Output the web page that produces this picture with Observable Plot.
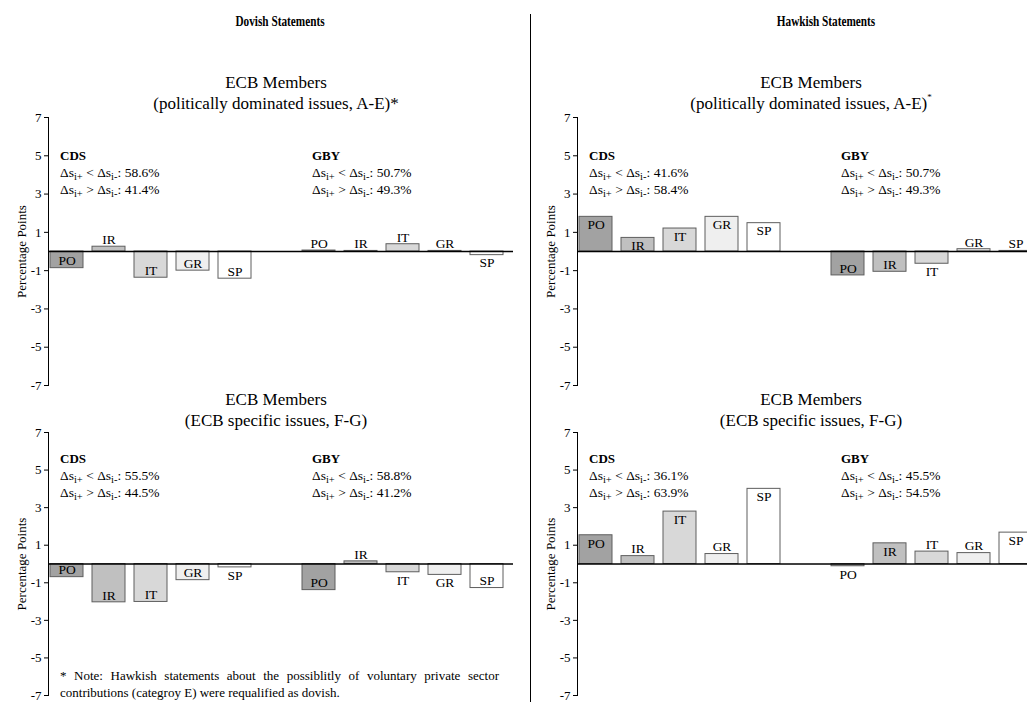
<!DOCTYPE html>
<html>
<head>
<meta charset="utf-8">
<script src="https://cdn.jsdelivr.net/npm/d3@7"></script>
<script src="https://cdn.jsdelivr.net/npm/@observablehq/plot@0.6"></script>
<style>
  html, body { margin: 0; padding: 0; overflow: hidden; background: #fff; }
  #root { position: relative; width: 1027px; height: 702px; overflow: hidden;
          font-family: "Liberation Serif", "Times New Roman", serif; color: #000; }
  .hdr { position: absolute; top: 12px; font-weight: bold; font-size: 15px; line-height: 18px;
         transform: translateX(-50%) scaleX(0.75); white-space: nowrap; }
  .divider { position: absolute; left: 530px; top: 14px; width: 1.2px; height: 700px; background: #000; }
  .ptitle { position: absolute; font-size: 17px; line-height: 21px; text-align: center;
            transform: translateX(-50%); white-space: nowrap; z-index: 2; }
  .ptitle sup { font-size: 9px; vertical-align: 9px; line-height: 0; }
  .panel { position: absolute; z-index: 1; width: 531px; }
  .panel svg { max-width: none !important; display: block; }
  .note { position: absolute; left: 60px; top: 668px; width: 439px; font-size: 13px; line-height: 16.5px; z-index: 3; }
  .note .l1 { text-align: justify; text-align-last: justify; white-space: nowrap; }
</style>
</head>
<body>
<div id="root"></div>
<script>
// ---------------- data ----------------
const categories = ["PO", "IR", "IT", "GR", "SP"];
const groups = ["CDS", "GBY"];
const yTicks = [7, 5, 3, 1, -1, -3, -5, -7];

// Dovish statements, politically dominated issues (A-E)
const dovishAE_CDS = [-0.87, 0.25, -1.37, -1.0, -1.42];
const dovishAE_GBY = [0.05, 0.03, 0.38, 0.03, -0.19];
// Hawkish statements, politically dominated issues (A-E)
const hawkishAE_CDS = [1.81, 0.71, 1.2, 1.81, 1.48];
const hawkishAE_GBY = [-1.25, -1.06, -0.64, 0.12, 0.03];
// Dovish statements, ECB specific issues (F-G)
const dovishFG_CDS = [-0.70, -2.04, -2.02, -0.86, -0.18];
const dovishFG_GBY = [-1.39, 0.14, -0.44, -0.58, -1.28];
// Hawkish statements, ECB specific issues (F-G)
const hawkishFG_CDS = [1.53, 0.42, 2.79, 0.53, 4.0];
const hawkishFG_GBY = [-0.12, 1.1, 0.66, 0.58, 1.67];

// shares: [CDS, GBY] for "Δsi+ < Δsi-" and "Δsi+ > Δsi-"
const dovishAE_less = [58.6, 50.7], dovishAE_more = [41.4, 49.3];
const hawkishAE_less = [41.6, 50.7], hawkishAE_more = [58.4, 49.3];
const dovishFG_less = [55.5, 58.8], dovishFG_more = [44.5, 41.2];
const hawkishFG_less = [36.1, 45.5], hawkishFG_more = [63.9, 54.5];

const headers = ["Dovish Statements", "Hawkish Statements"];
const titleLine1 = "ECB Members";
const titleAE = "(politically dominated issues, A-E)";
const titleFG = "(ECB specific issues, F-G)";
const yLabel = "Percentage Points";
const noteLine1 = "* Note: Hawkish statements about the possiblitly of voluntary private sector";
const noteLine2 = "contributions (categroy E) were requalified as dovish.";

// ---------------- styles / layout ----------------
const fills = ["#a2a2a2", "#c0c0c0", "#d8d8d8", "#efefef", "#ffffff"];
const slots = [...categories.map(c => "CDS|" + c), "gap", ...categories.map(c => "GBY|" + c)];

const root = document.getElementById("root");

function addDiv(cls, html, style) {
  const d = document.createElement("div");
  d.className = cls;
  d.innerHTML = html;
  Object.assign(d.style, style || {});
  root.appendChild(d);
  return d;
}

addDiv("hdr", headers[0], {left: "280px"});
addDiv("hdr", headers[1], {left: "826px"});
addDiv("divider", "");

function subscriptify(svg) {
  d3.select(svg).selectAll("text").each(function () {
    const t = this.textContent;
    if (!t.includes("Δs") || this.querySelector("tspan")) return;
    this.textContent = "";
    const parts = t.split(/(i[+\-])/);
    for (const p of parts) {
      if (!p) continue;
      const ts = document.createElementNS("http://www.w3.org/2000/svg", "tspan");
      ts.textContent = p;
      if (/^i[+\-]$/.test(p)) {
        ts.setAttribute("font-size", "10.5");
        ts.setAttribute("baseline-shift", "-3");
      }
      this.appendChild(ts);
    }
  });
}

function panel(cfg) {
  const rows = [];
  groups.forEach((g, gi) => {
    const vals = gi === 0 ? cfg.cds : cfg.gby;
    categories.forEach((c, ci) => rows.push({slot: g + "|" + c, group: g, cat: c, value: vals[ci]}));
  });
  const inside = d => Math.abs(d.value) >= 0.69;
  const aboveEnd = rows.filter(d => (d.value >= 0) !== inside(d));
  const belowEnd = rows.filter(d => (d.value >= 0) === inside(d));
  const annot = [];
  groups.forEach((g, gi) => {
    annot.push({slot: g + "|PO", line: 0, text: g});
    annot.push({slot: g + "|PO", line: 1, text: `Δsi+ < Δsi-: ${cfg.less[gi].toFixed(1)}%`});
    annot.push({slot: g + "|PO", line: 2, text: `Δsi+ > Δsi-: ${cfg.more[gi].toFixed(1)}%`});
  });
  const annTextOpts = (line, extra) => ({
    x: "slot", text: "text", frameAnchor: "top", textAnchor: "start", dx: -7,
    dy: cfg.annTop + line * 17, fontSize: 13.5, ...extra
  });

  const svg = Plot.plot({
    width: 531,
    height: cfg.height,
    marginLeft: 48,
    marginRight: 18,
    marginTop: cfg.marginTop,
    marginBottom: cfg.marginBottom,
    style: {fontFamily: "'Liberation Serif', 'Times New Roman', serif", fontSize: "13px", background: "transparent", overflow: "visible", color: "#000", maxWidth: "none"},
    x: {domain: slots, axis: null, paddingInner: 0.22, paddingOuter: 0.13, align: 0.18},
    y: {domain: [-7, 7], ticks: yTicks, tickSize: 4, tickPadding: 3, tickFormat: d => String(d),
        label: yLabel, labelAnchor: "center", labelArrow: false, labelOffset: 32, line: true},
    color: {domain: categories, range: fills},
    marks: [
      Plot.barY(rows, {x: "slot", y: "value", fill: "cat", stroke: "#5e5e5e", strokeWidth: 1}),
      Plot.ruleY([0], {stroke: "#000", strokeWidth: 1.4}),
      Plot.text(aboveEnd, {x: "slot", y: "value", text: "cat", dy: -7, fontSize: 13.5}),
      Plot.text(belowEnd, {x: "slot", y: "value", text: "cat", dy: 8, fontSize: 13.5}),
      Plot.text(annot.filter(d => d.line === 0), annTextOpts(0, {fontWeight: "bold", fontSize: 13})),
      Plot.text(annot.filter(d => d.line === 1), annTextOpts(1)),
      Plot.text(annot.filter(d => d.line === 2), annTextOpts(2))
    ]
  });
  subscriptify(svg);
  svg.style.maxWidth = "none";
  const wrap = document.createElement("div");
  wrap.className = "panel";
  wrap.style.left = cfg.left + "px";
  wrap.style.top = cfg.top + "px";
  wrap.appendChild(svg);
  root.appendChild(wrap);

  addDiv("ptitle", titleLine1 + "<br>" + cfg.title, {left: cfg.titleX + "px", top: cfg.titleY + "px"});
}

const topRow = {top: 112, height: 279, marginTop: 5, marginBottom: 6, annTop: 33, titleY: 72};
const botRow = {top: 425, height: 277, marginTop: 7, marginBottom: 7, annTop: 21, titleY: 389};

panel({...topRow, left: 0, titleX: 276, title: titleAE + "*", cds: dovishAE_CDS, gby: dovishAE_GBY, less: dovishAE_less, more: dovishAE_more});
panel({...topRow, left: 529, titleX: 811, title: titleAE + "<sup>*</sup>", cds: hawkishAE_CDS, gby: hawkishAE_GBY, less: hawkishAE_less, more: hawkishAE_more});
panel({...botRow, left: 0, titleX: 276, title: titleFG, cds: dovishFG_CDS, gby: dovishFG_GBY, less: dovishFG_less, more: dovishFG_more});
panel({...botRow, left: 529, titleX: 811, title: titleFG, cds: hawkishFG_CDS, gby: hawkishFG_GBY, less: hawkishFG_less, more: hawkishFG_more});

const note = addDiv("note", "");
const l1 = document.createElement("div"); l1.className = "l1"; l1.textContent = noteLine1; note.appendChild(l1);
const l2 = document.createElement("div"); l2.textContent = noteLine2; note.appendChild(l2);
</script>
</body>
</html>
